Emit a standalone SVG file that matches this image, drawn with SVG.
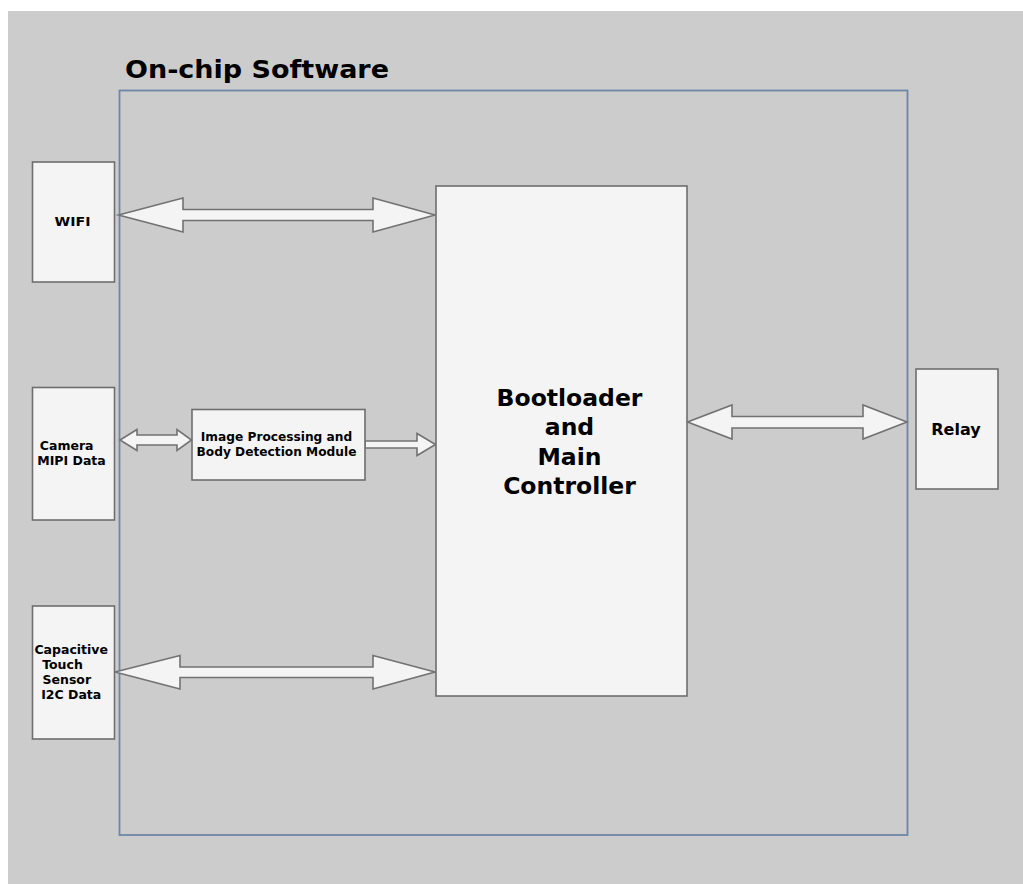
<svg xmlns="http://www.w3.org/2000/svg" width="1023" height="884" viewBox="0 0 1023 884">
  <style>
    .box { fill: #f4f4f4; stroke: #6e6e6e; stroke-width: 1.6; }
    .arrow { fill: #f4f4f4; stroke: #727272; stroke-width: 1.6; stroke-linejoin: miter; }
    .frame { fill: none; stroke: #6f87a6; stroke-width: 1.8; }
    .lbl { font-family: "DejaVu Sans", Verdana, sans-serif; font-weight: bold; fill: #000; text-anchor: middle; }
    .small { font-size: 12.5px; }
    .mid { font-size: 12.2px; }
    .big { font-size: 23.5px; }
  </style>

  <!-- page and canvas -->
  <rect x="0" y="0" width="1023" height="884" fill="#ffffff"/>
  <rect x="8" y="11" width="1015" height="873" fill="#cccccc"/>

  <!-- on-chip software boundary -->
  <g id="onchip">
    <rect class="frame" x="119.5" y="90.5" width="788" height="744.5"/>
    <text class="lbl" x="257" y="78" font-size="24" textLength="264" lengthAdjust="spacingAndGlyphs">On-chip Software</text>
  </g>

  <!-- connectors: block arrows -->
  <g id="connectors">
    <polygon class="arrow" points="118.5,215 183,198 183,209.5 373,209.5 373,198 435,215 373,232 373,220.5 183,220.5 183,232"/>
    <polygon class="arrow" points="120,440 137,429.5 137,435 177,435 177,429.5 191.5,440 177,450.5 177,445 137,445 137,450.5"/>
    <polygon class="arrow" points="365,441 417,441 417,433.5 435.5,444.5 417,455.5 417,448 365,448"/>
    <polygon class="arrow" points="115,672 180,655.5 180,667 373,667 373,655.5 435,672 373,689 373,677.5 180,677.5 180,689"/>
    <polygon class="arrow" points="687.5,422 732,405 732,416.5 863,416.5 863,405 907,422 863,439 863,428 732,428 732,439"/>
  </g>

  <g id="wifi">
    <rect class="box" x="32.5" y="162" width="82" height="120"/>
    <text class="lbl" x="72.5" y="225.5" font-size="13" textLength="36" lengthAdjust="spacingAndGlyphs">WIFI</text>
  </g>

  <g id="camera">
    <rect class="box" x="32.5" y="387.5" width="82" height="132.5"/>
    <text class="lbl small" x="66.7" y="449.5">Camera</text>
    <text class="lbl small" x="71.5" y="465">MIPI Data</text>
  </g>

  <g id="capacitive">
    <rect class="box" x="32.5" y="606" width="82" height="133"/>
    <text class="lbl small" x="71.2" y="654">Capacitive</text>
    <text class="lbl small" x="62.5" y="669">Touch</text>
    <text class="lbl small" x="66.8" y="684.3">Sensor</text>
    <text class="lbl small" x="71.2" y="699.3">I2C Data</text>
  </g>

  <g id="image-processing">
    <rect class="box" x="192" y="409.5" width="173" height="70.5"/>
    <text class="lbl mid" x="276.5" y="441">Image Processing and</text>
    <text class="lbl mid" x="276.5" y="456">Body Detection Module</text>
  </g>

  <g id="main-controller">
    <rect class="box" x="436" y="186" width="251" height="510"/>
    <text class="lbl big" x="569.5" y="405.5">Bootloader</text>
    <text class="lbl big" x="569.5" y="435">and</text>
    <text class="lbl big" x="569.5" y="464.5">Main</text>
    <text class="lbl big" x="569.5" y="494">Controller</text>
  </g>

  <g id="relay">
    <rect class="box" x="916" y="369" width="82" height="120"/>
    <text class="lbl" x="956" y="435.3" font-size="16">Relay</text>
  </g>
</svg>
